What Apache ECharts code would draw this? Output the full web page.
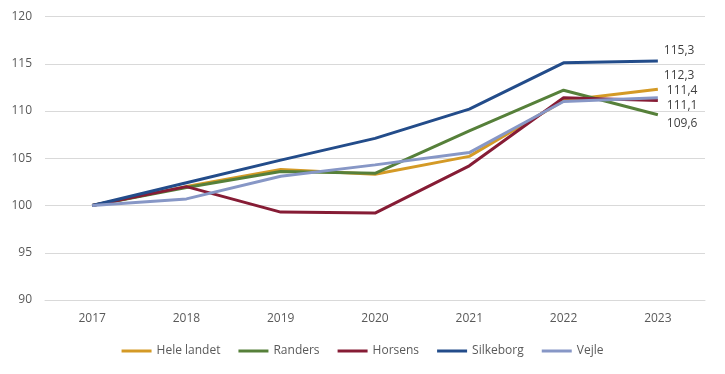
<!DOCTYPE html>
<html>
<head>
<meta charset="utf-8">
<script src="https://cdn.jsdelivr.net/npm/echarts@6/dist/echarts.min.js"></script>
<style>html,body{margin:0;padding:0;background:#fff}#c{width:725px;height:374px}</style>
</head>
<body>
<div id="c"></div>
<script>
var years = ['2017','2018','2019','2020','2021','2022','2023'];
var seriesNames = ['Hele landet','Randers','Horsens','Silkeborg','Vejle'];
var heleLandet = [100, 102.0, 103.8, 103.3, 105.2, 111.1, 112.3];
var randers    = [100, 101.9, 103.6, 103.4, 107.9, 112.2, 109.6];
var horsens    = [100, 102.0, 99.3, 99.2, 104.2, 111.4, 111.1];
var silkeborg  = [100, 102.4, 104.8, 107.1, 110.2, 115.1, 115.3];
var vejle      = [100, 100.7, 103.1, 104.3, 105.6, 111.0, 111.4];
var colors = ['#D49A26', '#56803A', '#861C35', '#234C8A', '#8797C6'];
var labelOffsets = [[1,-14],[4,9],[4,5],[1,-10],[4,-7]];
var allData = [heleLandet, randers, horsens, silkeborg, vejle];

var series = seriesNames.map(function(name, i){
  return {
    name: name,
    type: 'line',
    data: allData[i],
    symbol: 'none',
    lineStyle: {width: 3, color: colors[i]},
    itemStyle: {color: colors[i]},
    z: [2,3,4,5,6][i],
    endLabel: {
      show: true,
      distance: 5,
      offset: labelOffsets[i],
      color: '#404040',
      fontSize: 12,
      fontFamily: 'Open Sans',
      formatter: function(p){ return String(p.value).replace('.', ','); }
    }
  };
});

var chart = echarts.init(document.getElementById('c'));
chart.setOption({
  animation: false,
  color: colors,
  grid: {left: 45, right: 20, top: 16.5, bottom: 74, containLabel: false},
  legend: {
    data: seriesNames,
    bottom: 12,
    left: 'center',
    icon: 'rect',
    itemWidth: 30,
    itemHeight: 3,
    itemGap: 18,
    textStyle: {color: '#595959', fontSize: 12, fontFamily: 'Open Sans'}
  },
  xAxis: {
    type: 'category',
    data: years,
    boundaryGap: true,
    axisLine: {lineStyle: {color: '#D9D9D9', width: 1}},
    axisTick: {show: false},
    axisLabel: {color: '#595959', fontSize: 12, fontFamily: 'Open Sans', margin: 13}
  },
  yAxis: {
    type: 'value',
    min: 90, max: 120, interval: 5,
    axisLine: {show: false},
    axisTick: {show: false},
    splitLine: {lineStyle: {color: '#D9D9D9', width: 1}},
    axisLabel: {color: '#595959', fontSize: 12, fontFamily: 'Open Sans', margin: 13}
  },
  series: series
});
</script>
</body>
</html>
